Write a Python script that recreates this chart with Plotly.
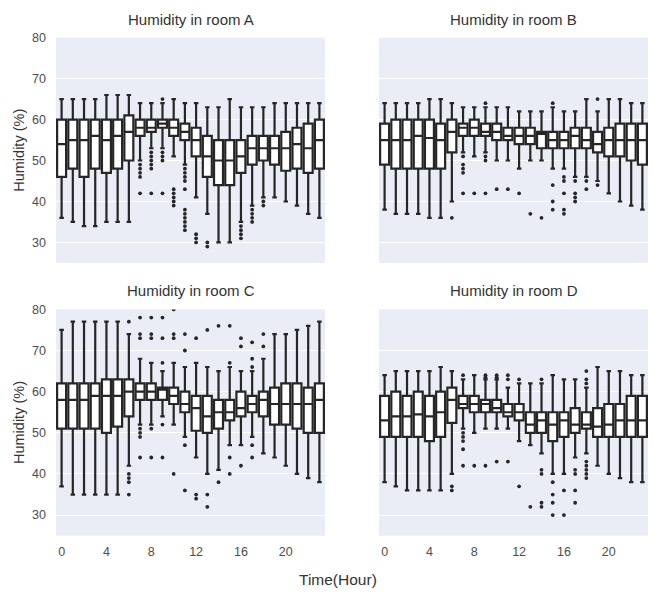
import plotly.graph_objects as go

hours = list(range(24))
rooms = ["A", "B", "C", "D"]

# ---- Room A ----
a_upper = [65, 65, 65, 65, 66, 66, 66, 64, 64, 64, 65, 64, 64, 63, 63, 65, 63, 63, 63, 64, 64, 64, 64, 64]
a_q3 = [60, 60, 60, 60, 60, 60, 61, 60, 60, 60, 60, 59, 58, 56, 55, 55, 55, 56, 56, 56, 57, 58, 59, 60]
a_med = [54, 55, 55, 56, 55, 56, 57, 58, 58, 59, 58, 57, 55, 51, 50, 50, 51, 53, 53, 53, 53, 54, 53, 55]
a_q1 = [46, 48, 46, 48, 47, 48, 50, 56, 57, 58, 56, 55, 51, 46, 44, 44, 47, 49, 50, 49, 47.5, 48, 47, 48]
a_lower = [36, 35, 34, 34, 35, 35, 35, 50, 53, 53, 51, 49, 41, 37, 30, 30, 35, 39, 41, 41, 40, 39, 37, 36]
a_out = [[], [], [], [], [], [], [],
         [49, 48, 47, 46, 42], [52, 51, 50, 49, 48, 42], [65, 52, 51, 50, 42],
         [43, 42, 41, 40, 39], [48, 47, 46, 45, 43, 38, 37, 36, 35, 34, 33],
         [32, 31, 30], [30, 29], [], [], [34, 33, 32, 31], [38, 37, 36, 35],
         [40, 39], [], [], [], [], []]

# ---- Room B ----
b_upper = [64, 64, 64, 64, 65, 65, 64, 63, 63, 63, 63, 63, 62, 62, 62, 63, 62, 62, 65, 62, 65, 65, 64, 64]
b_q3 = [59, 60, 60, 60, 60, 59, 60, 59, 60, 59, 59, 58, 58, 58, 57, 57, 57, 58, 58, 57, 58, 59, 59, 59]
b_med = [55, 55, 55, 56, 55.5, 55, 57, 58, 58, 57, 57, 56, 56, 56, 56.5, 55, 55, 56, 55, 54, 55, 55, 55, 55]
b_q1 = [49, 48, 48, 48, 48, 48, 52, 56, 56, 56, 55, 55, 54, 54, 53, 53, 53, 53, 53, 52, 51, 51, 50, 49]
b_lower = [38, 37, 37, 37, 36, 36, 40, 52, 51, 52, 50, 50, 48, 50, 50, 48, 48, 46, 46, 45, 42, 40, 39, 38]
b_out = [[], [], [], [], [], [], [36],
         [51, 49, 48, 47, 42], [42], [64, 51, 50, 42], [43], [43], [42], [37], [36],
         [64, 44, 40, 38], [46, 45, 42, 38, 37], [45, 42, 41, 40], [45, 43], [65, 44],
         [], [], [], []]

# ---- Room C ----
c_upper = [75, 77, 77, 77, 77, 77, 74, 68, 67, 65, 67, 66, 67, 66, 65, 66, 65, 65, 68, 74, 74, 75, 76, 77]
c_q3 = [62, 62, 62, 62, 63, 63, 63, 62, 62, 61, 61, 60, 59, 59, 58, 58, 60, 59, 60, 61, 62, 62, 61, 62]
c_med = [58, 58, 58, 59, 59, 59, 60, 60, 60, 60.5, 59, 57, 56, 54, 55, 55, 56, 57, 58, 57, 57, 57, 57, 58]
c_q1 = [51, 51, 51, 51, 50, 51.5, 54, 58, 58, 58, 57, 55, 50.5, 50, 51, 53, 54, 55, 54, 52, 52, 51, 50, 50]
c_lower = [37, 35, 35, 35, 35, 35, 42, 52, 52, 54, 52, 49, 44, 40, 41, 47, 47, 49, 45, 44, 42, 40, 39, 38]
c_out = [[], [], [], [], [], [],
         [77, 40, 39, 38, 35], [78, 74, 73, 51, 50, 49, 44], [78, 74, 73, 51, 44],
         [78, 73, 67, 52, 44], [80, 74, 73, 40], [74, 70, 47, 36], [73, 35, 34],
         [75, 35, 32], [76, 38], [76, 67, 44, 40], [73, 71, 42], [72, 68, 66, 47, 44],
         [74, 71], [], [], [], [], []]

# ---- Room D ----
d_upper = [64, 65, 65, 65, 65, 66, 65, 63, 64, 63, 63, 61, 62, 62, 62, 64, 63, 63, 61, 66, 65, 65, 64, 64]
d_q3 = [59, 60, 59, 60, 59, 60, 61, 59, 59, 58, 58, 57, 57, 55, 55, 55, 55, 56, 55, 56, 57, 57, 59, 59]
d_med = [53, 54, 54, 54.5, 54, 55, 58, 57, 57, 57, 56, 55, 55, 52, 53, 52, 53, 52, 52, 51.5, 52, 53, 53, 53]
d_q1 = [49, 49, 49, 49, 48, 49, 52.4, 56, 55, 55, 55, 54, 53, 50, 50, 48, 49, 50, 51, 49, 49, 49, 49, 49]
d_lower = [38, 37, 36, 36, 36, 36, 40, 51, 50, 51, 51, 51, 48, 47, 45, 40, 40, 44, 45, 42, 40, 39, 38, 38]
d_out = [[], [], [], [], [], [], [37, 36],
         [64, 50, 49, 48, 46, 42], [42], [64, 63.5, 42], [64, 63.5, 43], [64, 63, 43],
         [63, 37], [32], [63, 41, 40, 33, 32], [38, 35, 33, 30], [36, 30],
         [41, 40, 36, 33], [65, 63, 62, 43, 42, 41, 40, 39], [], [], [], [], []]

stats = {
    "A": (a_q1, a_med, a_q3, a_lower, a_upper, a_out),
    "B": (b_q1, b_med, b_q3, b_lower, b_upper, b_out),
    "C": (c_q1, c_med, c_q3, c_lower, c_upper, c_out),
    "D": (d_q1, d_med, d_q3, d_lower, d_upper, d_out),
}

W, H = 653, 592
xdoms = [[56 / W, 325 / W], [379 / W, 648 / W]]
ydoms = [[1 - 259 / H, 1 - 31 / H], [1 - 535 / H, 1 - 306 / H]]

line_col = "#262626"
font_fam = "Liberation Sans, Arial, sans-serif"
tick_col = "#4d4d4d"
label_col = "#333333"

fig = go.Figure()
layout = dict(
    width=W, height=H,
    margin=dict(l=0, r=0, t=0, b=0),
    paper_bgcolor="white", plot_bgcolor="#EAECF6",
    showlegend=False,
    font=dict(family=font_fam, color=line_col),
    annotations=[],
)

for i, room in enumerate(rooms):
    r, c = divmod(i, 2)
    n = i + 1
    xa = "x" if n == 1 else f"x{n}"
    ya = "y" if n == 1 else f"y{n}"
    q1, med, q3, lo, up, out = stats[room]
    fig.add_trace(go.Box(
        x=hours, q1=q1, median=med, q3=q3, lowerfence=lo, upperfence=up,
        width=0.8, whiskerwidth=0.5, fillcolor="white",
        line=dict(color=line_col, width=2.2),
        boxpoints=False, xaxis=xa, yaxis=ya, name=room,
    ))
    ox, oy = [], []
    for h, vals in zip(hours, out):
        for v in vals:
            ox.append(h)
            oy.append(v)
    fig.add_trace(go.Scatter(
        x=ox, y=oy, mode="markers",
        marker=dict(color=line_col, size=3.8),
        xaxis=xa, yaxis=ya,
    ))
    xkey = "xaxis" if n == 1 else f"xaxis{n}"
    ykey = "yaxis" if n == 1 else f"yaxis{n}"
    layout[xkey] = dict(
        domain=xdoms[c], anchor=ya, range=[-0.5, 23.5],
        tickmode="array", tickvals=[0, 4, 8, 12, 16, 20],
        showticklabels=(r == 1), showgrid=False, zeroline=False,
        ticks="", ticklabelstandoff=7,
        tickfont=dict(size=12.5, color=tick_col),
    )
    layout[ykey] = dict(
        domain=ydoms[r], anchor=xa, range=[25, 80],
        tickmode="array", tickvals=[30, 40, 50, 60, 70, 80],
        showticklabels=(c == 0), showgrid=True, gridcolor="white", gridwidth=1,
        zeroline=False, ticks="", ticklabelstandoff=9,
        tickfont=dict(size=12.5, color=tick_col),
    )
    if c == 0:
        layout[ykey]["title"] = dict(text="Humidity (%)", font=dict(size=14.5, color=label_col), standoff=4)
    layout["annotations"].append(dict(
        text=f"Humidity in room {room}", x=sum(xdoms[c]) / 2, y=ydoms[r][1],
        xref="paper", yref="paper", xanchor="center", yanchor="bottom", yshift=8,
        showarrow=False, font=dict(size=15, color=label_col),
    ))

layout["annotations"].append(dict(
    text="Time(Hour)", x=338 / W, y=1 - 579 / H, xref="paper", yref="paper",
    xanchor="center", yanchor="middle", showarrow=False,
    font=dict(size=15.5, color=label_col),
))

fig.update_layout(**layout)
fig.write_html("out.html")
